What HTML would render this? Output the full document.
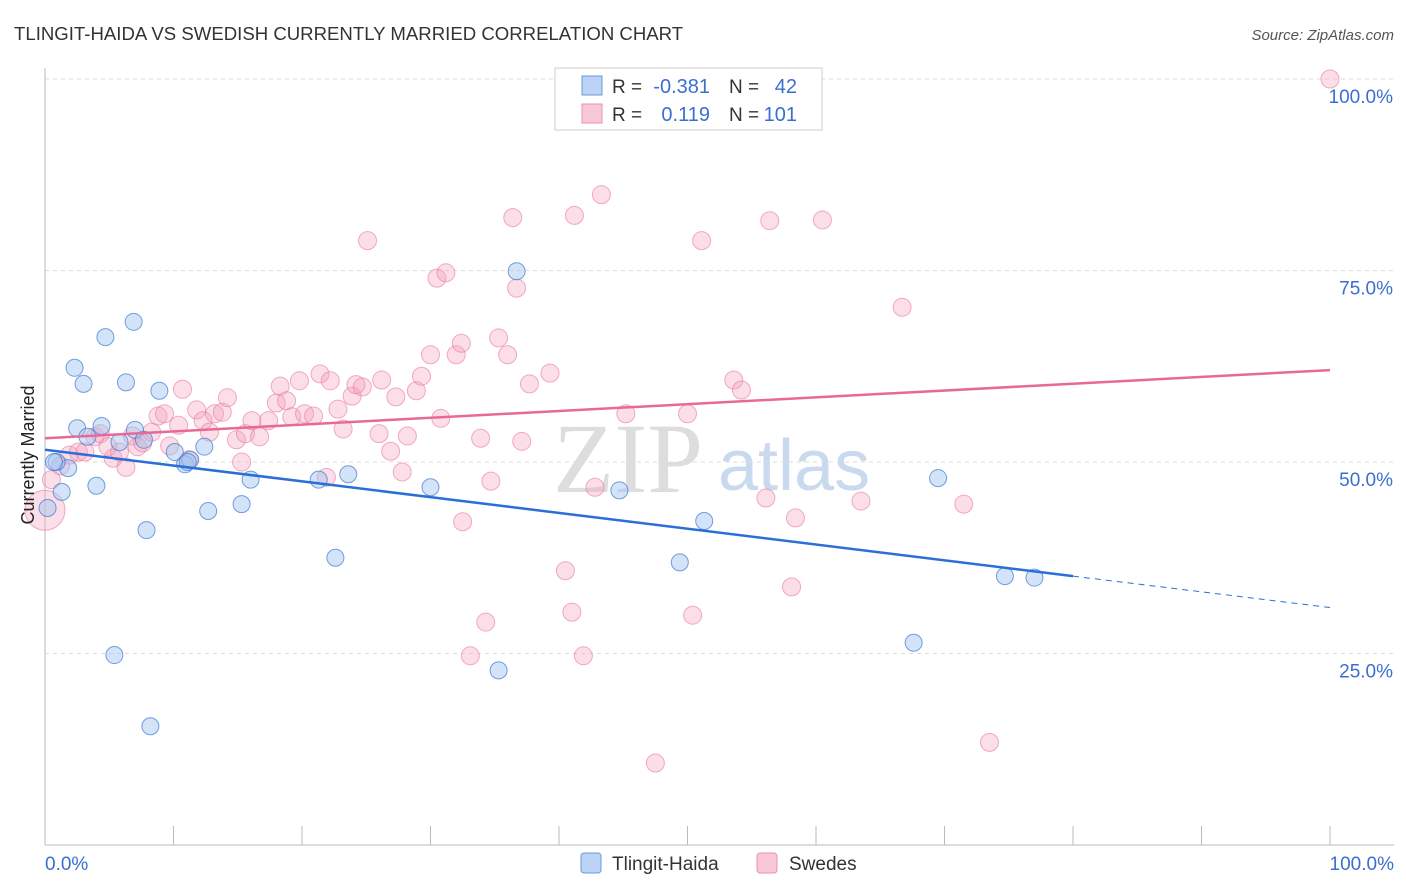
<!DOCTYPE html>
<html><head><meta charset="utf-8"><style>
body{margin:0;background:#fff;font-family:"Liberation Sans",sans-serif;}
svg{display:block}
</style></head><body>
<svg id="chart" width="1406" height="892">
<text x="14" y="40" font-size="18.6" fill="#333">TLINGIT-HAIDA VS SWEDISH CURRENTLY MARRIED CORRELATION CHART</text>
<text x="1394" y="40" font-size="15" fill="#555" font-style="italic" text-anchor="end">Source: ZipAtlas.com</text>
<text x="553" y="492" font-size="100" fill="#ddd" font-family="Liberation Serif,serif">ZIP</text>
<text x="718" y="490" font-size="72" fill="#c9d9ee">atlas</text>
<g id="grid"></g><g id="axes"></g><g id="pts"></g><g id="lines"></g>
<text transform="translate(34,455) rotate(-90)" font-size="18" fill="#222" text-anchor="middle">Currently Married</text>
<g>
<rect x="555" y="68" width="267" height="62" fill="#fff" stroke="#ccc"/>
<rect x="582" y="76" width="20" height="19" fill="#bcd3f5" stroke="#6a9ae0"/>
<rect x="582" y="104" width="20" height="19" fill="#f9c8d8" stroke="#ee8fae"/>
<text x="612" y="93" font-size="19" fill="#333">R =</text>
<text x="710" y="93" font-size="20" fill="#3a6fd0" text-anchor="end">-0.381</text>
<text x="729" y="93" font-size="19" fill="#333">N =</text>
<text x="797" y="93" font-size="20" fill="#3a6fd0" text-anchor="end">42</text>
<text x="612" y="121" font-size="19" fill="#333">R =</text>
<text x="710" y="121" font-size="20" fill="#3a6fd0" text-anchor="end">0.119</text>
<text x="729" y="121" font-size="19" fill="#333">N =</text>
<text x="797" y="121" font-size="20" fill="#3a6fd0" text-anchor="end">101</text>
</g>
<g>
<rect x="581" y="853" width="20" height="20" fill="#bcd3f5" stroke="#6a9ae0" rx="3"/>
<text x="612" y="870" font-size="19" fill="#333">Tlingit-Haida</text>
<rect x="757" y="853" width="20" height="20" fill="#f9c8d8" stroke="#ee8fae" rx="3"/>
<text x="789" y="870" font-size="19" fill="#333">Swedes</text>
</g>
</svg>
<script>
const blueX=[0.2,1.3,1.8,2.5,3.0,2.3,4.0,4.4,4.7,5.4,5.8,6.3,6.9,7.0,7.9,8.2,8.9,10.1,10.9,11.3,12.4,12.7,15.3,16.0,21.3,22.6,23.6,30.0,35.3,36.7,44.7,49.4,51.3,67.6,69.5,74.7,77.0,0.9,3.3,7.7,0.7,11.1];
const blueY=[44.0,46.1,49.2,54.4,60.2,62.3,46.9,54.7,66.3,24.8,52.6,60.4,68.3,54.2,41.1,15.5,59.3,51.3,49.7,50.3,52.0,43.6,44.5,47.7,47.7,37.5,48.4,46.7,22.8,74.9,46.3,36.9,42.3,26.4,47.9,35.1,34.9,50.0,53.3,52.9,50.0,50.0];
const pinkX=[0.5,1.2,1.9,2.6,3.1,3.9,4.3,4.9,5.3,5.8,6.3,6.8,7.2,7.6,8.3,8.8,9.3,9.7,10.4,10.7,11.2,11.8,12.3,12.8,13.2,13.8,14.2,14.9,15.3,15.6,16.1,16.7,17.4,18.0,18.3,18.8,19.2,19.8,20.2,20.9,21.4,21.9,22.2,22.8,23.2,23.9,24.2,24.7,25.1,26.0,26.2,26.9,27.3,27.8,28.2,28.9,29.3,30.0,30.5,30.8,31.2,32.0,32.4,32.5,33.1,33.9,34.3,34.7,35.3,36.0,36.4,36.7,37.1,37.7,39.3,40.5,41.0,41.2,41.9,42.8,43.3,45.2,47.5,50.0,50.4,51.1,53.6,54.2,56.1,56.4,58.1,58.4,60.5,63.5,66.7,71.5,73.5,100,46.7,0];
const pinkY=[47.7,49.5,50.9,51.3,51.3,53.3,53.7,52.0,50.5,51.3,49.3,53.4,52.0,52.5,53.9,56.0,56.3,52.1,54.8,59.5,50.3,56.8,55.4,53.9,56.3,56.5,58.4,52.9,50.0,53.7,55.4,53.3,55.4,57.7,59.9,58.0,55.9,60.6,56.3,56.0,61.5,48.0,60.6,56.9,54.3,58.6,60.1,59.8,78.9,53.7,60.7,51.4,58.5,48.7,53.4,59.3,61.2,64.0,74.0,55.7,74.7,64.0,65.5,42.2,24.7,53.1,29.1,47.5,66.2,64.0,81.9,72.7,52.7,60.2,61.6,35.8,30.4,82.2,24.7,46.7,84.9,56.3,10.7,56.3,30.0,78.9,60.7,59.4,45.3,81.5,33.7,42.7,81.6,44.9,70.2,44.5,13.4,100,100,43.7];
const pinkR=pinkX.map((v,i)=>i===pinkX.length-1?20:9);
const blueTrend=[51.6,35.1,31.0]; const blueTrendX=[0,80,100];
const pinkTrend=[53.1,62.0];
const yTicks=[25,50,75,100];
const xTickLabels=["0.0%","100.0%"];
const NS="http://www.w3.org/2000/svg";
const sx=v=>45+v*12.85, sy=v=>845-v*7.66;
function mk(p,tag,a){const e=document.createElementNS(NS,tag);for(const k in a)e.setAttribute(k,a[k]);document.getElementById(p).appendChild(e);return e;}
yTicks.forEach(t=>{
 const l=mk('grid','line',{x1:45,x2:1394,y1:sy(t),y2:sy(t),stroke:'#ddd','stroke-dasharray':'4,4'});
 
 
 const tx=mk('grid','text',{x:1393,y:sy(t)+24,'font-size':19,fill:'#3a6fd0','text-anchor':'end'});tx.textContent=t.toFixed(1)+'%';
 
 
});
const ax=mk('axes','line',{x1:45,x2:45,y1:68,y2:845,stroke:'#bbb'});


const bx=mk('axes','line',{x1:45,x2:1394,y1:845,y2:845,stroke:'#bbb'});


for(let i=0;i<=10;i++){const t=mk('axes','line',{x1:sx(i*10),x2:sx(i*10),y1:826,y2:845,stroke:'#bbb'});
 
 }
[[0,'start'],[100,'end']].forEach((d,i)=>{const t=mk('axes','text',{x:d[0]===0?45:1394,y:870,'font-size':19,fill:'#3a6fd0','text-anchor':d[1]});t.textContent=xTickLabels[i];
 
 });
pinkX.forEach((v,i)=>{const c=mk('pts','circle',{cx:sx(v),cy:sy(pinkY[i]),r:pinkR[i],fill:'rgba(244,160,190,0.35)',stroke:'rgba(232,120,160,0.6)'});
 
 });
blueX.forEach((v,i)=>{const c=mk('pts','circle',{cx:sx(v),cy:sy(blueY[i]),r:8.5,fill:'rgba(160,195,240,0.45)',stroke:'rgba(60,120,210,0.7)'});
 
 });
const pl=mk('lines','line',{x1:sx(0),y1:sy(pinkTrend[0]),x2:sx(100),y2:sy(pinkTrend[1]),stroke:'#e8689a','stroke-width':2.5});


const bl=mk('lines','line',{x1:sx(blueTrendX[0]),y1:sy(blueTrend[0]),x2:sx(blueTrendX[1]),y2:sy(blueTrend[1]),stroke:'#2a6fd6','stroke-width':2.5});


const bd=mk('lines','line',{x1:sx(blueTrendX[1]),y1:sy(blueTrend[1]),x2:sx(blueTrendX[2]),y2:sy(blueTrend[2]),stroke:'#2a6fd6','stroke-width':1,'stroke-dasharray':'6,5'});


</script>
</body></html>
